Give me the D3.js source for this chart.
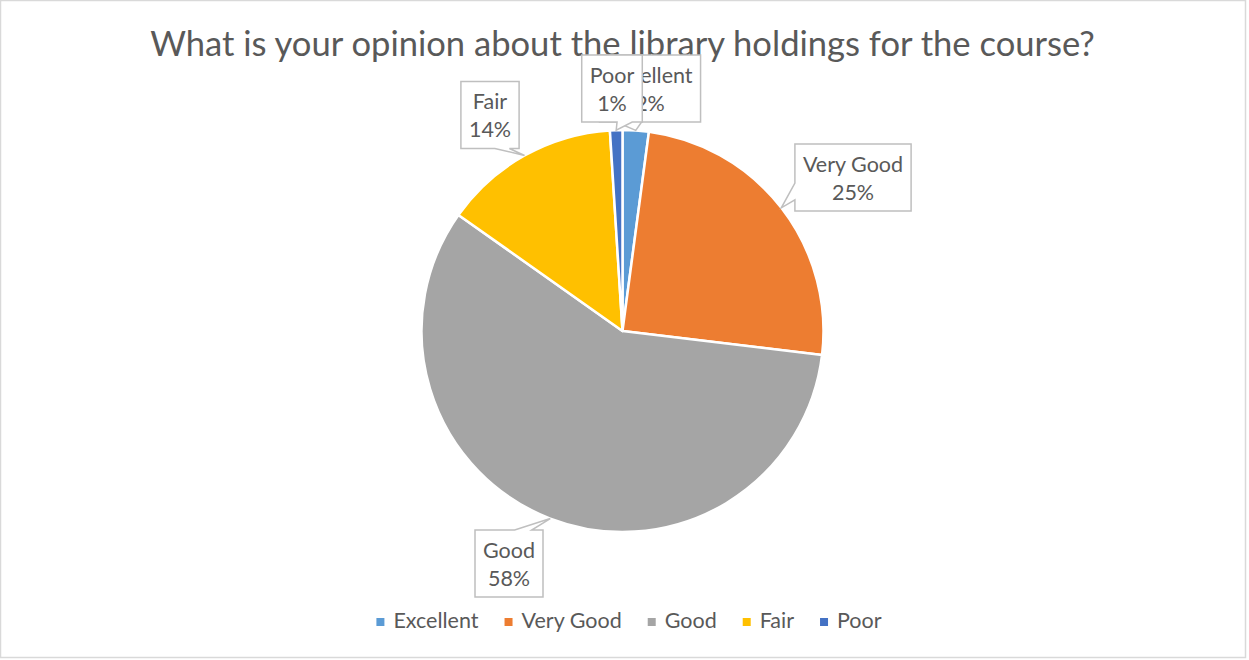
<!DOCTYPE html>
<html>
<head>
<meta charset="utf-8">
<script src="https://cdn.jsdelivr.net/npm/d3@7"></script>
<style>
  html, body { margin: 0; padding: 0; background: #fff; }
  svg { display: block; }
  text { font-family: Lato, "Open Sans", "Liberation Sans", sans-serif; fill: #595959; }
</style>
</head>
<body>
<svg id="chart" width="1249" height="660"></svg>
<script>
// ---- data ----
const titleText = "What is your opinion about the library holdings for the course?";
const categories = ["Excellent", "Very Good", "Good", "Fair", "Poor"];
const values = [2.1, 24.8, 57.9, 14.2, 1.0];
const colors = ["#5B9BD5", "#ED7D31", "#A5A5A5", "#FFC000", "#4472C4"];

// ---- layout ----
const W = 1249, H = 660;
const cx = 622.5, cy = 331, R = 201;
// callout box centres (layout, in pixels)
const calloutCentres = [[650, 88.5], [853, 177.5], [509, 563.5], [490, 115], [612, 88.5]];

const svg = d3.select("#chart");

svg.append("rect")
  .attr("x", 0.5).attr("y", 0.5).attr("width", W - 4).attr("height", H - 3)
  .attr("fill", "#fff").attr("stroke", "#D9D9D9").attr("stroke-width", 1.5);

// title, fitted to reference width
const title = svg.append("text")
  .attr("x", cx).attr("y", 56).attr("text-anchor", "middle")
  .style("font-size", "30px").text(titleText);
const tw = title.node().getComputedTextLength();
title.style("font-size", (30 * 945 / tw) + "px");

const total = d3.sum(values);
const data = categories.map((c, i) => ({ name: c, value: values[i], color: colors[i] }));
const pie = d3.pie().value(d => d.value).sort(null);
const arcs = pie(data);
const arc = d3.arc().innerRadius(0).outerRadius(R);

const g = svg.append("g").attr("transform", `translate(${cx},${cy})`);
g.selectAll("path.slice").data(arcs).join("path")
  .attr("class", "slice")
  .attr("d", arc)
  .attr("fill", d => d.data.color)
  .attr("stroke", "#fff").attr("stroke-width", 2.5).attr("stroke-linejoin", "round");

// callouts
const labelSize = 21.5;
const lineGap = 28;
const padX = 8, boxH = 67;
const lg = svg.append("g");

function calloutPath(l, t, w, h, tx, ty) {
  const r = l + w, b = t + h;
  const hc = l + w / 2, vc = t + h / 2;
  const dx = tx - hc, dy = ty - vc;
  const dq = Math.abs(dx) * h / w;
  if (Math.abs(dy) > dq) {
    const f1 = dx > 0 ? 7 : 2, f2 = dx > 0 ? 10 : 5;
    const x1 = l + w * f1 / 12, x2 = l + w * f2 / 12;
    if (dy > 0) {
      return `M${l},${t}H${r}V${b}H${x2}L${tx},${ty}L${x1},${b}H${l}Z`;
    } else {
      return `M${l},${t}H${x1}L${tx},${ty}L${x2},${t}H${r}V${b}H${l}Z`;
    }
  } else {
    const f1 = dy > 0 ? 7 : 2, f2 = dy > 0 ? 10 : 5;
    const y1 = t + h * f1 / 12, y2 = t + h * f2 / 12;
    if (dx > 0) {
      return `M${l},${t}H${r}V${y1}L${tx},${ty}L${r},${y2}V${b}H${l}Z`;
    } else {
      return `M${l},${t}H${r}V${b}H${l}V${y2}L${tx},${ty}L${l},${y1}Z`;
    }
  }
}

arcs.forEach((a, i) => {
  const mid = (a.startAngle + a.endAngle) / 2;
  const tx = cx + R * Math.sin(mid), ty = cy - R * Math.cos(mid);
  const [bx, by] = calloutCentres[i];
  const grp = lg.append("g");
  const path = grp.append("path");
  const t1 = grp.append("text").attr("x", bx).attr("y", by - lineGap / 2)
    .attr("text-anchor", "middle").attr("dominant-baseline", "central")
    .style("font-size", labelSize + "px").text(a.data.name);
  const pct = Math.round(a.data.value / total * 100) + "%";
  const t2 = grp.append("text").attr("x", bx).attr("y", by + lineGap / 2)
    .attr("text-anchor", "middle").attr("dominant-baseline", "central")
    .style("font-size", labelSize + "px").text(pct);
  const w = Math.max(t1.node().getComputedTextLength(), t2.node().getComputedTextLength()) + 2 * padX;
  path.attr("d", calloutPath(bx - w / 2, by - boxH / 2, w, boxH, tx, ty))
    .attr("fill", "#fff").attr("stroke", "#BFBFBF").attr("stroke-width", 1.5);
});

// legend
const legSize = 21.5;
const leg = svg.append("g");
const items = [];
let x = 0;
data.forEach((d, i) => {
  const it = leg.append("g");
  it.append("rect").attr("x", 0).attr("y", 618).attr("width", 8).attr("height", 8).attr("fill", d.color);
  const t = it.append("text").attr("x", 17).attr("y", 628).style("font-size", legSize + "px").text(d.name);
  const w = 17 + t.node().getComputedTextLength();
  items.push({ it, x, w });
  x += w + 26;
});
const totalW = x - 26;
const startX = 629 - totalW / 2;
items.forEach(o => o.it.attr("transform", `translate(${startX + o.x},0)`));
</script>
</body>
</html>
